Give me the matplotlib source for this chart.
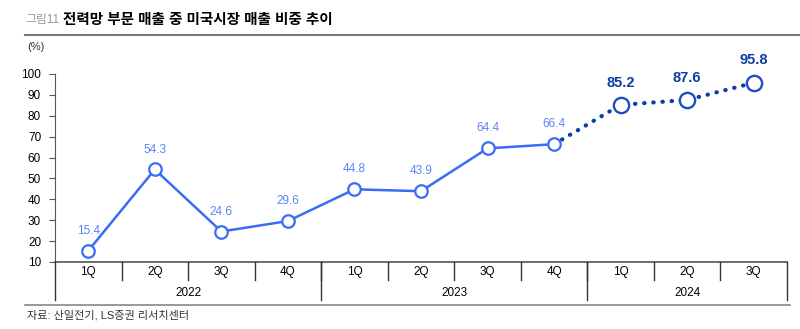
import matplotlib.pyplot as plt
import matplotlib.transforms as mtransforms

plt.rcParams['font.family'] = ['Liberation Sans', 'Noto Sans CJK KR', 'DejaVu Sans']

quarters = ["1Q", "2Q", "3Q", "4Q", "1Q", "2Q", "3Q", "4Q", "1Q", "2Q", "3Q"]
years = ["2022", "2023", "2024"]
year_counts = [4, 4, 3]
share = [15.4, 54.3, 24.6, 29.6, 44.8, 43.9, 64.4, 66.4, 85.2, 87.6, 95.8]
n_actual = 8  # 2022~2023 actual, 2024 dotted

c_solid = "#3a6cf4"
c_dot = "#0b3ea6"
c_lab = "#5a85f5"

fig = plt.figure(figsize=(8, 3.29), dpi=100)
ax = fig.add_axes([55 / 800, 1 - 262 / 329, 732 / 800, 188 / 329])

x = list(range(len(share)))
ax.plot(x[:n_actual], share[:n_actual], color=c_solid, lw=1.8, zorder=3,
        marker="o", ms=9, mfc="white", mec=c_solid, mew=1.6)
ax.plot(x[n_actual - 1:], share[n_actual - 1:], color=c_dot, lw=3,
        linestyle=(0, (0.1, 2.1)), dash_capstyle="round", zorder=2)
ax.plot(x[n_actual:], share[n_actual:], ls="none", zorder=4,
        marker="o", ms=11, mfc="white", mec="#1d4fc0", mew=1.7)

for i, v in enumerate(share):
    if i < n_actual:
        ax.annotate(f"{v:.1f}", (i, v), xytext=(0, 10), textcoords="offset points",
                    ha="center", va="bottom", fontsize=8.5, color=c_lab)
    else:
        ax.annotate(f"{v:.1f}", (i, v), xytext=(0, 11), textcoords="offset points",
                    ha="center", va="bottom", fontsize=10.5, fontweight="bold",
                    color=c_dot)

ax.set_xlim(-0.5, len(share) - 0.5)
ax.set_ylim(10, 100)
ax.set_yticks(range(10, 101, 10))
ax.tick_params(axis="y", labelsize=8.5, length=4, color="#555555", pad=6)
ax.set_xticks([])
for s in ["top", "right"]:
    ax.spines[s].set_visible(False)
ax.spines["left"].set_color("#555555")
ax.spines["bottom"].set_color("#555555")
ax.spines["bottom"].set_linewidth(1.2)

# two-level category axis
tr = mtransforms.blended_transform_factory(ax.transData, fig.transFigure)
y_q = 1 - 272 / 329
y_y = 1 - 293 / 329
y_tick_end = 1 - 280 / 329
y_year_end = 1 - 300 / 329
y_top = 1 - 262 / 329
for i, q in enumerate(quarters):
    fig.text(i, y_q, q, transform=tr, ha="center", va="center", fontsize=8.5)
for i in range(1, len(quarters)):
    fig.add_artist(plt.Line2D([i - 0.5, i - 0.5], [y_top, y_tick_end],
                              transform=tr, color="#333333", lw=1))
start = 0
bounds = [-0.5]
for yr, cnt in zip(years, year_counts):
    fig.text(start + (cnt - 1) / 2, y_y, yr, transform=tr, ha="center",
             va="center", fontsize=8.5)
    start += cnt
    bounds.append(start - 0.5)
for b in bounds:
    fig.add_artist(plt.Line2D([b, b], [y_top, y_year_end], transform=tr,
                              color="#333333", lw=1))

# title, unit, source
fig.text(25 / 800, 1 - 20 / 329, "그림11", fontsize=8.5, color="#999999",
         va="center")
fig.text(63 / 800, 1 - 20 / 329, "전력망 부문 매출 중 미국시장 매출 비중 추이",
         fontsize=10.5, fontweight="bold", va="center")
fig.add_artist(plt.Line2D([25 / 800, 1], [1 - 35 / 329] * 2, color="#777777", lw=1.5))
fig.text(27 / 800, 1 - 47 / 329, "(%)", fontsize=8, va="center", color="#333333")
fig.add_artist(plt.Line2D([25 / 800, 790 / 800], [1 - 305 / 329] * 2,
                          color="#888888", lw=1.2))
fig.text(27 / 800, 1 - 315 / 329, "자료: 산일전기, LS증권 리서치센터", fontsize=8,
         va="center", color="#333333")

fig.savefig("out.png", dpi=100)
